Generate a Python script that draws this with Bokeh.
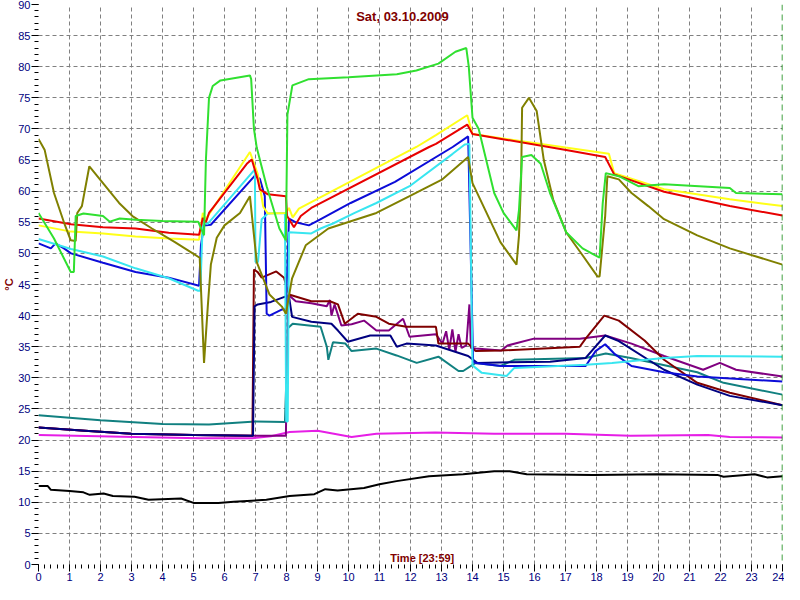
from bokeh.plotting import figure
from bokeh.models import Range1d, FixedTicker, Label, Span
from bokeh.embed import file_html
from bokeh.resources import INLINE

title_text = "Sat, 03.10.2009"
x_label_text = "Time [23:59]"
y_label_text = "°C"
x_ticks = list(range(0, 25))
y_ticks = list(range(0, 91, 5))

# Outdoor (black)
t_black = [0, 0.3, 0.4, 1.0, 1.45, 1.65, 2.1, 2.4, 3.1, 3.55, 4.6, 5.0, 5.8, 6.3, 7.35, 8.1, 8.9, 9.25, 9.65, 10.5, 11.0, 11.55, 12.6, 13.7, 14.7, 15.2, 15.75, 17.9, 20.0, 21.9, 22.1, 23.1, 23.5, 24]
v_black = [12.6, 12.6, 12.0, 11.8, 11.6, 11.2, 11.4, 11.0, 10.9, 10.4, 10.6, 9.9, 9.9, 10.1, 10.4, 11.0, 11.3, 12.1, 11.9, 12.3, 12.9, 13.4, 14.2, 14.5, 15.0, 15.0, 14.5, 14.4, 14.5, 14.4, 14.1, 14.5, 14.0, 14.2]

# Room (magenta)
t_magenta = [0, 3.1, 5.2, 6.9, 7.5, 8.1, 9.0, 10.1, 10.9, 12.8, 14.7, 17.0, 19.1, 21.6, 22.3, 24]
v_magenta = [20.8, 20.5, 20.3, 20.3, 20.6, 21.3, 21.5, 20.5, 21.0, 21.2, 21.0, 21.0, 20.7, 20.8, 20.5, 20.4]

# Teal
t_teal = [0, 2, 4, 5.5, 7.0, 7.95, 8.05, 8.2, 9.1, 9.3, 9.35, 9.5, 9.9, 10.1, 10.9, 11.55, 12.2, 12.9, 13.55, 13.7, 14.1, 14.9, 15.35, 17.65, 18.3, 19.1, 21.25, 22.1, 24]
v_teal = [24.0, 23.2, 22.6, 22.5, 23.0, 22.9, 38.0, 38.7, 38.2, 35.0, 32.9, 35.7, 35.5, 34.3, 34.7, 33.6, 32.4, 33.4, 31.1, 31.1, 32.4, 31.9, 32.9, 33.2, 33.9, 33.2, 30.9, 29.2, 27.3]

# Purple
t_purple = [0, 1.5, 3, 5, 6.9, 7.98, 8.05, 8.3, 8.8, 9.3, 9.4, 9.45, 9.55, 9.77, 10.1, 10.5, 10.9, 11.3, 11.76, 11.97, 12.82, 13.03, 13.15, 13.25, 13.35, 13.45, 13.55, 13.65, 13.8, 13.9, 13.95, 14.1, 14.93, 15.13, 15.98, 17.46, 18.28, 19.13, 20.18, 21.44, 21.98, 22.5, 24]
v_purple = [22.0, 21.5, 21.0, 20.8, 20.7, 20.7, 43.4, 42.3, 42.0, 41.5, 42.5, 40.0, 41.8, 38.4, 38.6, 39.2, 37.6, 37.6, 39.5, 36.6, 37.0, 35.5, 37.5, 34.5, 37.8, 34.2, 37.0, 34.8, 35.2, 41.8, 34.8, 34.7, 34.4, 35.2, 36.3, 36.3, 36.8, 35.5, 33.5, 31.3, 32.4, 31.3, 30.2]

# Maroon
t_maroon = [0, 1.5, 3, 5, 6.9, 6.95, 7.07, 7.2, 7.67, 7.92, 7.98, 8.08, 8.8, 9.4, 9.66, 9.88, 10.3, 10.9, 11.3, 11.87, 12.82, 12.9, 13.86, 14.1, 14.93, 17.46, 17.65, 18.25, 18.72, 19.55, 20.18, 21.25, 22.3, 24]
v_maroon = [22.0, 21.5, 21.0, 20.8, 20.7, 47.4, 47.0, 46.1, 47.1, 46.1, 45.0, 43.4, 42.3, 42.3, 41.8, 38.7, 40.3, 39.8, 38.7, 38.2, 38.2, 35.5, 35.5, 34.3, 34.4, 35.0, 36.3, 40.0, 39.2, 36.0, 32.9, 29.2, 27.6, 25.6]

# Navy
t_navy = [0, 1.5, 3, 5, 6.92, 6.97, 7.07, 7.5, 7.98, 8.08, 8.18, 8.8, 9.45, 9.66, 9.98, 10.7, 11.35, 11.56, 11.87, 12.82, 13.86, 14.15, 16.5, 17.65, 18.28, 18.72, 20.18, 21.25, 22.3, 24]
v_navy = [22.0, 21.5, 21.0, 20.8, 20.7, 41.5, 41.8, 42.2, 43.1, 43.1, 39.8, 39.0, 38.7, 37.6, 35.8, 36.8, 36.8, 35.0, 35.5, 35.2, 33.5, 32.4, 32.6, 33.2, 36.8, 35.9, 31.3, 28.9, 27.1, 25.6]

# Blue
t_blue = [0, 0.4, 0.55, 0.82, 1.05, 2.08, 3.13, 4.2, 5.18, 5.24, 5.34, 5.56, 6.98, 7.14, 7.3, 7.36, 7.45, 7.86, 7.98, 8.08, 8.3, 8.72, 9.03, 10.07, 11.5, 13.36, 13.86, 14.02, 14.1, 14.93, 17.65, 17.97, 18.28, 18.57, 19.13, 20.18, 21.25, 24]
v_blue = [51.6, 50.8, 51.6, 50.8, 50.0, 48.5, 47.0, 46.1, 44.8, 51.3, 54.5, 54.6, 62.5, 62.0, 59.2, 40.3, 40.0, 41.0, 41.0, 55.6, 55.0, 54.5, 55.3, 58.1, 61.5, 67.1, 68.8, 32.6, 32.4, 31.9, 31.9, 34.3, 35.4, 33.9, 31.9, 30.9, 30.2, 29.4]

# Cyan
t_cyan = [0, 1.05, 2.08, 3.13, 4.2, 5.15, 5.22, 5.3, 5.45, 6.98, 7.0, 7.08, 7.2, 7.4, 7.95, 7.99, 8.04, 8.08, 8.8, 9.1, 9.5, 10.2, 10.9, 11.97, 13.36, 13.75, 13.9, 14.0, 14.3, 15.1, 15.35, 17.65, 18.5, 20.18, 21.25, 24]
v_cyan = [52.3, 50.7, 49.5, 47.6, 46.0, 44.0, 44.0, 55.3, 54.7, 63.5, 48.6, 48.6, 55.5, 56.4, 56.5, 23.0, 23.0, 53.4, 53.2, 54.0, 54.8, 56.5, 58.1, 60.8, 66.0, 67.5, 67.6, 32.0, 30.8, 30.3, 31.6, 32.1, 32.4, 33.2, 33.5, 33.4]

# Yellow
t_yellow = [0, 1.05, 2.08, 3.13, 4.2, 5.18, 5.3, 5.4, 6.82, 7.07, 7.25, 7.4, 7.98, 8.08, 8.2, 8.4, 12.19, 12.82, 13.83, 14.0, 17.0, 18.4, 18.57, 20.18, 22.3, 24]
v_yellow = [54.5, 53.5, 53.2, 52.7, 52.4, 52.2, 56.5, 55.5, 66.3, 62.8, 57.5, 56.4, 56.5, 57.3, 55.8, 57.2, 67.1, 69.0, 72.2, 69.2, 67.0, 66.0, 62.9, 60.3, 58.7, 57.6]

# Red
t_red = [0, 1.05, 2.08, 3.13, 4.2, 5.18, 5.3, 5.4, 5.5, 6.72, 6.88, 7.07, 7.14, 7.4, 7.98, 8.02, 8.24, 8.46, 8.8, 12.6, 12.82, 13.83, 14.0, 14.93, 17.02, 18.28, 18.57, 20.18, 22.3, 24]
v_red = [55.6, 54.7, 54.2, 54.0, 53.3, 53.0, 55.7, 55.0, 56.5, 64.4, 65.1, 61.9, 60.3, 59.5, 59.2, 56.0, 54.2, 56.0, 57.3, 67.1, 67.6, 70.7, 69.2, 68.4, 66.6, 65.5, 62.7, 59.9, 57.6, 56.1]

# Olive
t_olive = [0, 0.2, 0.5, 0.82, 1.04, 1.2, 1.25, 1.4, 1.64, 2.08, 2.6, 3.03, 3.66, 4.4, 5.2, 5.34, 5.46, 5.56, 5.75, 6.0, 6.5, 6.82, 7.04, 7.45, 7.86, 7.98, 8.18, 8.62, 9.35, 10.9, 11.97, 13.03, 13.86, 14.0, 14.9, 15.42, 15.5, 15.57, 15.6, 15.82, 16.07, 16.3, 16.6, 17.02, 17.55, 18.03, 18.1, 18.28, 18.35, 18.72, 19.13, 19.67, 20.18, 21.25, 22.3, 24]
v_olive = [68.4, 66.6, 59.7, 55.0, 52.1, 52.0, 56.5, 57.6, 64.0, 61.3, 58.1, 56.0, 54.0, 51.8, 49.3, 32.4, 41.4, 48.2, 52.5, 54.5, 56.5, 59.2, 48.6, 43.4, 41.4, 40.3, 46.0, 51.3, 54.0, 56.5, 59.2, 61.9, 65.5, 61.3, 51.8, 48.2, 52.9, 62.4, 73.4, 75.0, 72.9, 65.0, 58.7, 53.4, 49.7, 46.3, 46.3, 56.0, 62.4, 61.9, 59.7, 57.6, 55.5, 52.9, 50.8, 48.2]

# Green
t_green = [0, 0.5, 1.04, 1.14, 1.2, 1.45, 2.08, 2.3, 2.62, 3.13, 4.0, 5.15, 5.34, 5.4, 5.5, 5.62, 5.87, 6.82, 6.86, 6.95, 7.04, 7.36, 7.77, 7.98, 8.03, 8.19, 8.72, 10.0, 11.56, 12.19, 12.9, 13.45, 13.8, 13.88, 14.0, 14.2, 14.7, 15.0, 15.42, 15.5, 15.6, 15.9, 16.2, 16.5, 17.02, 17.55, 18.1, 18.2, 18.3, 18.72, 19.35, 20.18, 22.3, 22.5, 24]
v_green = [56.5, 52.4, 47.0, 47.0, 56.0, 56.4, 56.0, 55.1, 55.6, 55.4, 55.2, 55.1, 52.9, 65.0, 75.0, 76.9, 77.8, 78.6, 78.0, 70.0, 67.0, 60.8, 54.0, 52.1, 72.3, 77.0, 78.0, 78.3, 78.8, 79.4, 80.5, 82.4, 83.0, 80.0, 71.8, 70.0, 59.7, 56.5, 53.7, 57.0, 65.5, 65.8, 64.4, 59.7, 53.4, 50.8, 49.3, 58.0, 62.9, 62.4, 60.8, 61.1, 60.5, 59.7, 59.5]

series = [
    (t_black, v_black, "#000000"),
    (t_magenta, v_magenta, "#e61ee6"),
    (t_teal, v_teal, "#118080"),
    (t_purple, v_purple, "#800080"),
    (t_maroon, v_maroon, "#800000"),
    (t_navy, v_navy, "#000080"),
    (t_blue, v_blue, "#0c0cd8"),
    (t_cyan, v_cyan, "#38e6f0"),
    (t_yellow, v_yellow, "#ffff18"),
    (t_red, v_red, "#e80000"),
    (t_olive, v_olive, "#808000"),
    (t_green, v_green, "#30e030"),
]

p = figure(width=784, height=584, x_range=Range1d(0, 24), y_range=Range1d(0, 90),
           output_backend="svg", toolbar_location=None,
           min_border_left=34, min_border_right=2, min_border_top=4, min_border_bottom=20,
           background_fill_color="white", border_fill_color="white", outline_line_color=None)

p.xaxis.ticker = FixedTicker(ticks=x_ticks, minor_ticks=[i / 5 for i in range(0, 121)])
p.yaxis.ticker = FixedTicker(ticks=y_ticks, minor_ticks=list(range(0, 91)))
for ax in (p.xaxis, p.yaxis):
    ax.axis_line_color = None
    ax.major_tick_in = 0
    ax.major_tick_out = 7
    ax.minor_tick_in = 0
    ax.minor_tick_out = 4
    ax.major_tick_line_color = "black"
    ax.minor_tick_line_color = "black"
    ax.major_label_text_color = "#000080"
    ax.major_label_text_font = "Liberation Sans"
    ax.major_label_text_font_size = "11px"
    ax.major_label_standoff = 1

p.yaxis.axis_label = y_label_text
p.yaxis.axis_label_standoff = 0
p.yaxis.axis_label_text_color = "#800000"
p.yaxis.axis_label_text_font = "Liberation Sans"
p.yaxis.axis_label_text_font_style = "bold"
p.yaxis.axis_label_text_font_size = "11px"

for g in (p.xgrid, p.ygrid):
    g.grid_line_color = "#808080"
    g.grid_line_dash = "4 3"
    g.grid_line_width = 1

for t, v, c in series:
    p.line(t, v, line_color=c, line_width=2)

p.add_layout(Span(location=24, dimension="height", line_color="#008000",
                  line_dash="6 4", line_width=1.5))

p.add_layout(Label(x=11.74, y=88.05, text=title_text, text_align="center", text_baseline="middle",
                   text_color="#800000", text_font="Liberation Sans", text_font_style="bold",
                   text_font_size="13px"))
p.add_layout(Label(x=12.38, y=0.97, text=x_label_text, text_align="center", text_baseline="middle",
                   text_color="#800000", text_font="Liberation Sans", text_font_style="bold",
                   text_font_size="11px"))

open("out.html", "w").write(file_html(p, INLINE))
